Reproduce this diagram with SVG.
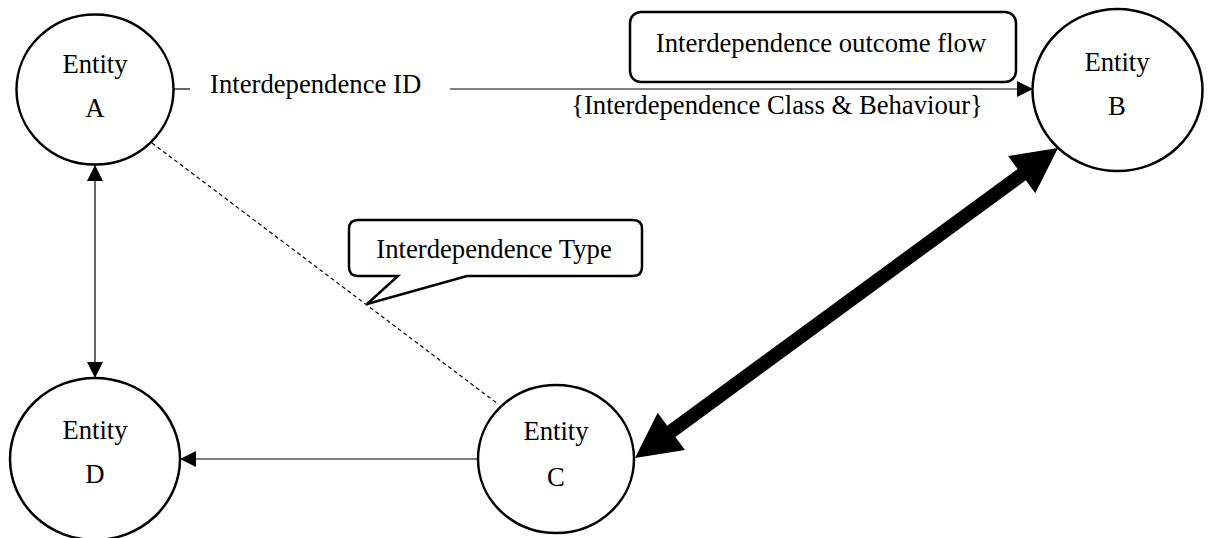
<svg xmlns="http://www.w3.org/2000/svg" width="1209" height="538" viewBox="0 0 1209 538">
  <style>
    .entity { fill: #ffffff; stroke: #000000; stroke-width: 2.5; }
    .label { font-family: "Liberation Serif", "Times New Roman", serif; font-size: 26.7px; fill: #000000; }
    .mid { text-anchor: middle; }
    .thin { fill: none; stroke: #000000; stroke-width: 1.2; }
    .dashed { fill: none; stroke: #000000; stroke-width: 1.2; stroke-dasharray: 4 3; }
    .box { fill: #ffffff; stroke: #000000; stroke-width: 2.5; }
  </style>
  <defs>
    <marker id="head" viewBox="0 0 16 16" refX="16" refY="8" markerWidth="16" markerHeight="16" markerUnits="userSpaceOnUse" orient="auto-start-reverse">
      <path d="M0,0 L16,8 L0,16 Z" fill="#000000"/>
    </marker>
  </defs>

  <rect width="1209" height="538" fill="#ffffff"/>

  <!-- connectors -->
  <g id="connectors">
    <!-- A to B, interrupted by the ID label -->
    <line class="thin" x1="173" y1="89" x2="190" y2="89"/>
    <line class="thin" x1="450" y1="89" x2="1033" y2="89" marker-end="url(#head)"/>
    <!-- A <-> D -->
    <line class="thin" x1="95" y1="165" x2="95" y2="378" marker-start="url(#head)" marker-end="url(#head)"/>
    <!-- C to D -->
    <line class="thin" x1="478" y1="459" x2="180" y2="459" marker-end="url(#head)"/>
    <!-- A .. C dashed -->
    <line class="dashed" x1="152" y1="143" x2="498" y2="404"/>
    <!-- C <-> B heavy double arrow -->
    <polygon fill="#000000" points="635,458 657.7,412.8 667.2,425.8 1017.6,169 1008.1,156 1058,148 1035.3,193.2 1025.8,180.2 675.4,437 684.9,450"/>
  </g>

  <!-- connector labels -->
  <g id="labels">
    <text class="label" x="210" y="93">Interdependence ID</text>
    <text class="label mid" x="777" y="114">{Interdependence Class &amp; Behaviour}</text>
  </g>

  <g id="outcome-flow">
    <rect class="box" x="630" y="12" width="386" height="70" rx="11" ry="11"/>
    <text class="label mid" x="821" y="52">Interdependence outcome flow</text>
  </g>

  <g id="interdependence-type">
    <path class="box" d="M358,220 H633 Q642,220 642,229 V267 Q642,276 633,276 H467 L367,304 L398,276 H358 Q349,276 349,267 V229 Q349,220 358,220 Z"/>
    <text class="label mid" x="494" y="258">Interdependence Type</text>
  </g>

  <!-- entities -->
  <g id="entity-a">
    <ellipse class="entity" cx="95" cy="89.5" rx="78.5" ry="75"/>
    <text class="label mid" x="95" y="73">Entity</text>
    <text class="label mid" x="95" y="117">A</text>
  </g>

  <g id="entity-b">
    <ellipse class="entity" cx="1117.5" cy="90" rx="85" ry="81"/>
    <text class="label mid" x="1117" y="71">Entity</text>
    <text class="label mid" x="1117" y="115">B</text>
  </g>

  <g id="entity-c">
    <ellipse class="entity" cx="556" cy="459" rx="78" ry="74"/>
    <text class="label mid" x="556" y="440">Entity</text>
    <text class="label mid" x="556" y="486">C</text>
  </g>

  <g id="entity-d">
    <ellipse class="entity" cx="95" cy="459" rx="85" ry="81"/>
    <text class="label mid" x="95" y="439">Entity</text>
    <text class="label mid" x="95" y="483">D</text>
  </g>
</svg>
